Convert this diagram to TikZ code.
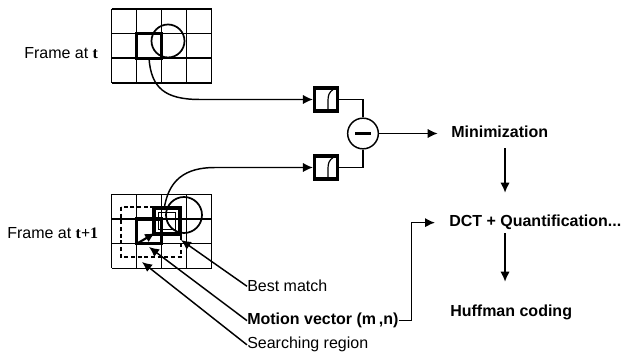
\documentclass[tikz,border=0pt]{standalone}
\usepackage{fontspec}
\setmainfont{Liberation Sans}
\newfontfamily\timesfont{Liberation Serif}
\usetikzlibrary{arrows.meta}
\newcommand{\tvar}[1]{{\timesfont\bfseries #1}}

\begin{document}
\begin{tikzpicture}[
  x=0.75pt, y=-0.75pt, font=\fontsize{12}{14}\selectfont,
  gridln/.style ={line width=1.1pt},
  blk/.style    ={line width=2.4pt},
  arr/.style    ={-{Latex[length=7.5pt,width=7pt]}, line width=1.1pt},
  txt/.style    ={anchor=base west, inner sep=0pt},
  hd/.style     ={txt, font=\fontsize{12}{14}\selectfont\bfseries,
                  text height=9pt, text depth=2.5pt},
  dbox/.style   ={draw, line width=2.6pt, minimum size=17pt, inner sep=0pt},
]

\useasboundingbox (0,0) rectangle (624,352);

\def\gx{111.5}\def\cw{25}\def\ch{24.6}
\def\ta{9}\def\tb{194.5}

% ----- frame at t -------------------------------------------------------
\foreach \i in {0,...,4}{
  \draw[gridln] (\gx+\cw*\i,\ta) -- (\gx+\cw*\i,\ta+3*\ch);}
\foreach \j in {0,...,3}{
  \draw[gridln] (\gx,\ta+\ch*\j) -- (\gx+4*\cw,\ta+\ch*\j);}
\draw[blk] (\gx+\cw,\ta+\ch) rectangle (\gx+2*\cw,\ta+2*\ch);
\draw[line width=1.3pt] (168,41) circle[radius=16.5];
\node[txt] (ft) at (24,59) {Frame at \tvar{t}};
\coordinate (tout) at (149,58);

% ----- frame at t+1 -----------------------------------------------------
\foreach \i in {0,...,4}{
  \draw[gridln] (\gx+\cw*\i,\tb) -- (\gx+\cw*\i,\tb+3*\ch);}
\foreach \j in {0,...,3}{
  \draw[gridln] (\gx,\tb+\ch*\j) -- (\gx+4*\cw,\tb+\ch*\j);}
\draw[line width=0.9pt,dash pattern=on 3pt off 2pt] (121,207) rectangle (181,257);
\draw[blk] (\gx+\cw,\tb+\ch) rectangle (\gx+2*\cw,\tb+2*\ch);
\draw[blk] (154,208) rectangle (180,234);
\draw[line width=1.3pt] (158.5,212.5) rectangle (175.5,229.5);
\draw[line width=1.3pt] (184,215) circle[radius=18];
\node[txt] (fb) at (7,239) {Frame at \tvar{t+1}};
\coordinate (bout) at (164,210);

% the displacement between the two blocks
\coordinate (mvA) at (138,243);
\coordinate (mvB) at (155,233);
\draw[arr,line width=1.6pt] (mvA) -- (mvB);

% ----- labels pointing into the frame -----------------------------------
\coordinate (bmTip) at (181,240);
\coordinate (mvTip) at (149,247);
\coordinate (srTip) at (142,262);
\node[txt] (best) at (247,292) {Best match};
\node[hd]  (mv)   at (247,325) {Motion vector (m\,,n)};
\node[txt] (srch) at (247,349) {Searching region};
\draw[arr] (best.west) -- (bmTip);
\draw[arr] (mv.west)   -- (mvTip);
\draw[arr] (srch.west) -- (srTip);

% ----- difference of the two blocks -------------------------------------
\node[dbox] (d1) at (326,99.5)  {};
\node[dbox] (d2) at (326,167.5) {};
\foreach \b in {d1,d2}{
  \draw[line width=0.9pt] ([shift={(7,-10)}]\b.center)
    .. controls ([shift={(3,-7)}]\b.center) and ([shift={(2,-4)}]\b.center)
    .. ([shift={(2,1)}]\b.center) -- ([shift={(2,10)}]\b.center);}
\node[draw,circle,line width=1.1pt,minimum size=23pt,inner sep=0pt] (minus) at (363,133.5) {};
\draw[line width=2.6pt] ([xshift=-6pt]minus.center) -- ([xshift=6pt]minus.center);

\draw[arr] (tout) .. controls (151,88) and (165,99.5) .. (200,99.5) -- (d1.west);
\draw[arr] (bout) .. controls (168,180) and (185,167.5) .. (215,167.5) -- (d2.west);
\draw[line width=1pt] (d1.east) -| (minus.north);
\draw[line width=1pt] (d2.east) -| (minus.south);

% ----- coding chain -----------------------------------------------------
\node[hd] (minim) at (451,138) {Minimization};
\node[hd] (dct)   at (449,227) {DCT + Quantification...};
\node[hd] (huff)  at (450,316) {Huffman coding};

\draw[arr,shorten >=10pt] (minus.east) -- (minus.east -| minim.west);
\draw[arr,shorten <=5pt,shorten >=16.5pt]
  ([xshift=4pt]minim.south) -- ([xshift=4pt]minim.south |- dct.north);
\draw[arr,shorten <=2pt,shorten >=16.5pt]
  ([xshift=4pt]minim.south |- dct.south) -- ([xshift=4pt]minim.south |- huff.north);
\draw[arr,shorten >=10.5pt] (mv.east) -- ++(13,0) |- (dct.west);

\end{tikzpicture}
\end{document}
